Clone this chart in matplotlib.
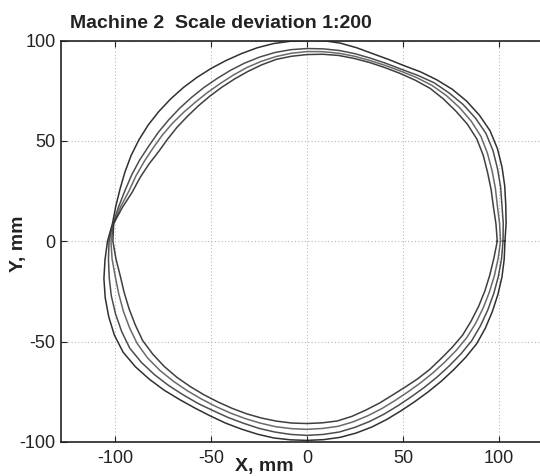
import numpy as np
import matplotlib
matplotlib.use("Agg")
import matplotlib.pyplot as plt

plt.rcParams['font.family'] = ['Liberation Sans', 'DejaVu Sans']

# Angles (degrees) at which the radius of each loop was read (every 5 deg)
angles_deg = list(range(0, 360, 5))

loop_a = [103, 104, 105, 106.5, 108, 109.3, 110, 109.5, 108.5, 107, 105, 103,
          101, 100, 99.5, 99.8, 100.2, 100.3, 100, 100, 100, 99.8, 99.5, 99.4,
          99.5, 99.7, 100, 100.3, 100.6, 100.9, 101, 101, 100.8, 100.7, 101, 101.6,
          103.8, 105.5, 107.3, 108.7, 109.8, 110.6, 110.5, 109, 107, 105, 103, 101.5,
          100.5, 100, 99.6, 99.5, 99.5, 99.3, 99.2, 99.2, 99.2, 98.9, 98.5, 98,
          97.6, 97.6, 98, 98.7, 99.6, 100.8, 102, 102.4, 102.6, 102.8, 103, 103]
loop_b = [102, 102.5, 103, 104.3, 105.5, 106.8, 107.5, 107, 106, 104.5, 103, 100.8,
          98.8, 97.7, 97, 96.7, 96.5, 96.2, 96, 95.8, 95.5, 95, 94.5, 94,
          93.6, 93.5, 93.5, 93.7, 94, 94.5, 95, 96, 97, 98, 99.5, 101.3,
          103, 103.7, 104.5, 105.4, 106, 106.4, 106.5, 105.2, 103.5, 101.7, 100, 98.7,
          97.5, 96.9, 96.5, 96.5, 96.5, 96.6, 96.7, 96.6, 96.5, 96, 95.5, 95,
          94.6, 94.6, 95, 95.7, 96.6, 97.8, 99, 99.6, 100.1, 100.6, 101.1, 101.6]
loop_c = [100.7, 100.6, 100.6, 101.5, 102.5, 103.6, 104.5, 104.3, 103.6, 102.6, 101.3, 99.5,
          97.8, 96.6, 95.8, 95.4, 95.1, 94.8, 94.5, 94, 93.4, 92.7, 92, 91.2,
          90.6, 90.4, 90.4, 90.8, 91.4, 92, 92.6, 93.6, 94.8, 96, 98.5, 101,
          102, 101.8, 101.3, 101.4, 101.7, 101.9, 102, 101.3, 100, 98.5, 97.1, 95.9,
          95, 94.4, 94, 93.8, 93.8, 93.7, 93.7, 93.6, 93.6, 93.1, 92.5, 92,
          91.6, 91.6, 92, 92.7, 93.6, 94.8, 96, 96.8, 97.5, 98.2, 99, 99.8]
loop_d = [99, 98.7, 98.5, 99.2, 100, 101.2, 102, 101.8, 101, 100.3, 99.5, 98,
          96.6, 95.5, 94.8, 94.3, 94, 93.5, 93, 92.5, 92, 91, 90, 89.2,
          88.6, 88.2, 88, 88, 88.3, 88.6, 89.2, 90.8, 92.5, 94.2, 97.5, 101,
          101, 99.8, 98.7, 98.5, 98.5, 98.6, 98.8, 98, 97, 95.8, 94.5, 93.4,
          92.5, 91.9, 91.5, 91.2, 91, 90.9, 90.8, 90.8, 90.9, 90.3, 89.5, 89,
          88.6, 88.8, 89.5, 90.3, 91, 92.2, 93.5, 94.2, 95, 95.8, 96.6, 97.6]

loops = [loop_a, loop_b, loop_c, loop_d]
line_colors = ['#1a1a1a', '#3a3a3a', '#5a5a5a', '#2a2a2a']

x_ticks = [-100, -50, 0, 50, 100]
y_ticks = [-100, -50, 0, 50, 100]

fig = plt.figure(figsize=(5.40, 4.76), dpi=100)
W, H = 540, 476
left_px, right_px, top_px, bot_px = 61, 553, 40.5, 442
ax = fig.add_axes([left_px / W, 1 - bot_px / H, (right_px - left_px) / W, (bot_px - top_px) / H])

theta = np.deg2rad(np.array(angles_deg + [angles_deg[0]]))
for r, c in zip(loops, line_colors):
    rr = np.array(r + [r[0]])
    ax.plot(rr * np.cos(theta), rr * np.sin(theta), color=c, lw=1.1, alpha=0.9)

ax.set_xlim(-128, 128)
ax.set_ylim(-100, 100)
ax.set_xticks(x_ticks)
ax.set_yticks(y_ticks)
ax.set_xticklabels([str(v) for v in x_ticks])
ax.set_yticklabels([str(v) for v in y_ticks])
ax.tick_params(direction='in', top=True, right=False, length=4, width=0.8,
               labelsize=13, colors='#222222')
ax.tick_params(axis='x', pad=6)
ax.tick_params(axis='y', pad=4)
ax.grid(True, linestyle=(0, (1, 2)), color='#b8b8b8', lw=0.8)
for s in ['left', 'bottom', 'top']:
    ax.spines[s].set_linewidth(1.2)
    ax.spines[s].set_color('#222222')
ax.spines['right'].set_visible(False)

fig.text(70 / W, 1 - 24 / H, 'Machine 2  Scale deviation 1:200', fontsize=14,
         fontweight='bold', ha='left', va='center', color='#222222')
fig.text(264 / W, 1 - 466 / H, 'X, mm', fontsize=14, fontweight='bold',
         ha='center', va='center', color='#222222')
fig.text(18 / W, 1 - 244 / H, 'Y, mm', fontsize=14, fontweight='bold',
         ha='center', va='center', rotation=90, color='#222222')

fig.savefig('out.png', dpi=100)
